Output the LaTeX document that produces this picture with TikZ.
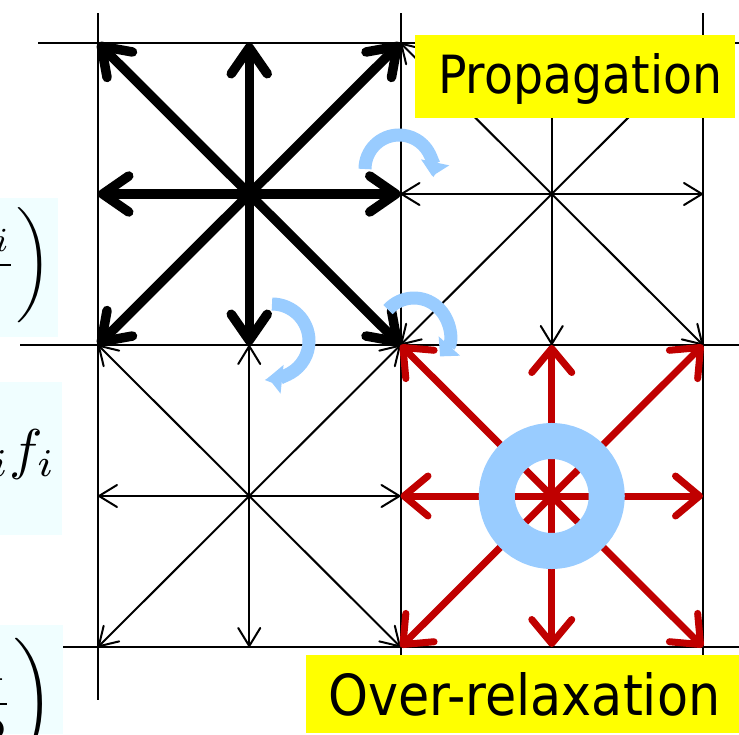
\documentclass[tikz,border=0pt]{standalone}
\usepackage{fontspec}
\usetikzlibrary{arrows.meta}
\newfontfamily\lblfont{DejaVu Sans}
\definecolor{ringblue}{RGB}{153,204,255}
\definecolor{arrred}{RGB}{192,0,0}
\definecolor{lblyellow}{RGB}{255,255,0}
\definecolor{formbg}{RGB}{240,254,255}
\begin{document}
\begin{tikzpicture}[x=1pt,y=-1pt,
  gridline/.style={line width=2pt,black},
  thinarr/.style={line width=2pt,black,-{Straight Barb[length=18pt,width=22pt,round]}},
  thickarr/.style={line width=9.5pt,black,-{Straight Barb[length=26pt,width=36pt,round]}},
  redarr/.style={line width=7pt,draw=arrred,-{Straight Barb[length=24pt,width=40pt,round]}},
  bluearr/.style={line width=13pt,draw=ringblue,-{Triangle[length=14pt,width=28pt]}},
  lblbox/.style={fill=lblyellow,draw=none},
  lbltext/.style={anchor=base west,inner sep=0pt,font=\lblfont},
  formbox/.style={fill=formbg,draw=none},
  formula/.style={inner sep=0pt}
]
\useasboundingbox (0,0) rectangle (739,734);
\fill[white] (0,0) rectangle (739,734);
% grid points
\foreach \i in {0,...,4}
  \foreach \j in {0,...,4}
    \coordinate (p\i\j) at ({98+151.25*\i},{43+151*\j});
% grid lines
\foreach \xx in {98,400.5,703}
  \draw[gridline] (\xx,13) -- (\xx,700);
\draw[gridline] (38,43) -- (739,43);
\draw[gridline] (20,345) -- (739,345);
\draw[gridline] (38,647) -- (739,647);
% thin stars
\foreach \cx/\cy in {3/1,1/3}{
  \foreach \dx/\dy in {-1/-1,0/-1,1/-1,-1/0,1/0,-1/1,0/1,1/1}{
    \pgfmathtruncatemacro\tx{\cx+\dx}
    \pgfmathtruncatemacro\ty{\cy+\dy}
    \draw[thinarr] (p\cx\cy) -- (p\tx\ty);
  }
}
% thick black star
\foreach \dx/\dy in {-1/-1,0/-1,1/-1,-1/0,1/0,-1/1,0/1,1/1}{
  \pgfmathtruncatemacro\tx{1+\dx}
  \pgfmathtruncatemacro\ty{1+\dy}
  \draw[thickarr] (p11) -- (p\tx\ty);
}
% red star
\foreach \dx/\dy in {-1/-1,0/-1,1/-1,-1/0,1/0,-1/1,0/1,1/1}{
  \pgfmathtruncatemacro\tx{3+\dx}
  \pgfmathtruncatemacro\ty{3+\dy}
  \draw[redarr] (p33) -- (p\tx\ty);
}
% ring
\draw[ringblue,line width=36pt] (p33) circle[radius=55];
% curved blue arrows
\draw[bluearr] ([shift={(180:34)}]399,169) arc[start angle=180,end angle=372,radius=34];
\draw[bluearr] ([shift={(-90:37)}]272,341) arc[start angle=-90,end angle=96,radius=37];
\draw[bluearr] ([shift={(-138:35)}]414,333) arc[start angle=-138,end angle=42,radius=35];
% labels
\fill[lblbox] (415,35) rectangle (735,118);
\node[lbltext] (prop) at (438,93) {\resizebox{284pt}{40pt}{Propagation}};
\fill[lblbox] (306,655) rectangle (739,733);
\node[lbltext] (over) at (328,715) {\resizebox{392pt}{43pt}{Over-relaxation}};
% formula boxes
\fill[formbox] (0,198) rectangle (58,337);
\begin{scope}
  \clip (0,198) rectangle (58,337);
  \node[formula,anchor=east] (f1) at (52,265) {\scalebox{4.8}{$\displaystyle\left(\frac{m_i}{V_i}\right)$}};
\end{scope}
\fill[formbox] (0,382) rectangle (62,535);
\begin{scope}
  \clip (0,382) rectangle (62,535);
  \node[formula,anchor=base east] (f2) at (56,468) {\scalebox{5.6}{$\omega_i f_i$}};
\end{scope}
\fill[formbox] (0,625) rectangle (63,734);
\begin{scope}
  \clip (0,625) rectangle (63,734);
  \node[formula,anchor=east] (f3) at (54,704) {\scalebox{5.5}{$\displaystyle\left(x-\frac{1}{2}\right)$}};
\end{scope}
\end{tikzpicture}
\end{document}
